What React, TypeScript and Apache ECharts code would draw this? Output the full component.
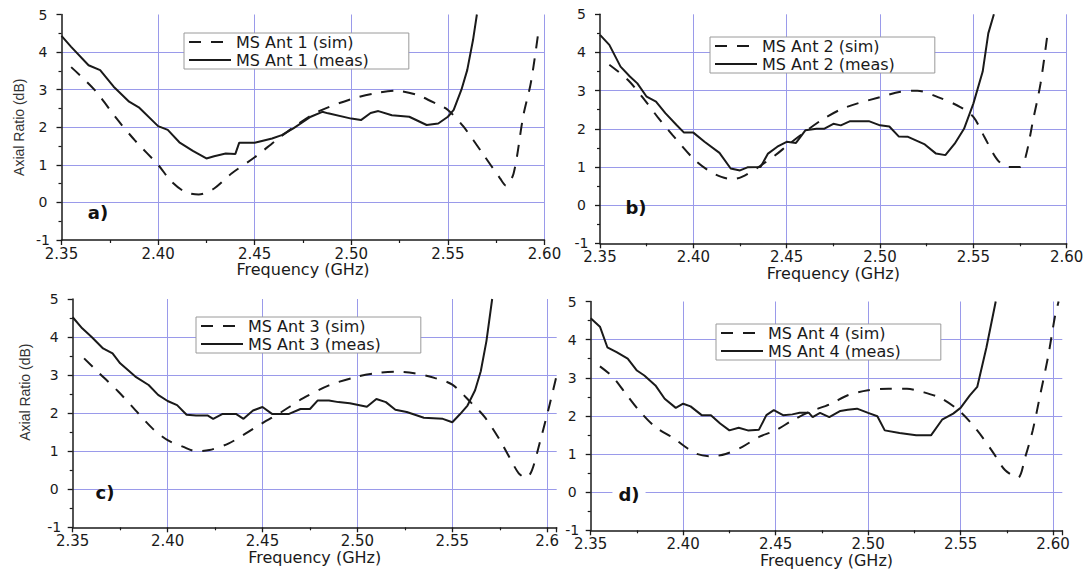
import React, { useEffect, useRef } from "react";
import * as echarts from "echarts";

// ---------- data (frequency GHz, axial ratio dB) ----------
const simA: number[][] = [
  [2.355, 3.6], [2.367, 3.0], [2.379, 2.2], [2.388, 1.65], [2.4, 1.0], [2.407, 0.55], [2.414, 0.28],
  [2.421, 0.21], [2.429, 0.37], [2.438, 0.77], [2.45, 1.2], [2.461, 1.65], [2.472, 2.07], [2.483, 2.42],
  [2.5, 2.75], [2.512, 2.9], [2.523, 2.97], [2.534, 2.86], [2.545, 2.6], [2.55, 2.46], [2.558, 2.02],
  [2.568, 1.3], [2.577, 0.64], [2.58, 0.45], [2.584, 0.77], [2.589, 2.3], [2.593, 3.2], [2.597, 4.6],
];
const measA: number[][] = [
  [2.35, 4.43], [2.355, 4.14], [2.364, 3.65], [2.37, 3.52], [2.377, 3.08], [2.385, 2.68], [2.39, 2.53],
  [2.4, 2.03], [2.405, 1.93], [2.411, 1.6], [2.418, 1.37], [2.425, 1.17], [2.429, 1.23], [2.435, 1.3],
  [2.44, 1.29], [2.442, 1.59], [2.45, 1.59], [2.459, 1.7], [2.464, 1.79], [2.47, 1.97], [2.479, 2.28],
  [2.485, 2.41], [2.488, 2.37], [2.5, 2.23], [2.505, 2.19], [2.51, 2.38], [2.514, 2.43], [2.521, 2.32],
  [2.53, 2.28], [2.539, 2.06], [2.545, 2.1], [2.55, 2.28], [2.553, 2.46], [2.557, 3.0], [2.56, 3.52],
  [2.563, 4.32], [2.565, 5.0],
];
const simB: number[][] = [
  [2.355, 3.68], [2.365, 3.28], [2.374, 2.75], [2.381, 2.3], [2.389, 1.83], [2.4, 1.22], [2.408, 0.91],
  [2.415, 0.74], [2.421, 0.68], [2.426, 0.74], [2.435, 1.0], [2.445, 1.35], [2.45, 1.55], [2.462, 2.0],
  [2.471, 2.3], [2.482, 2.57], [2.5, 2.83], [2.511, 2.97], [2.52, 3.0], [2.531, 2.83], [2.543, 2.57],
  [2.55, 2.31], [2.556, 1.78], [2.563, 1.18], [2.569, 1.0], [2.575, 1.0], [2.578, 1.27], [2.582, 2.23],
  [2.586, 3.19], [2.59, 4.59],
];
const measB: number[][] = [
  [2.35, 4.46], [2.355, 4.2], [2.361, 3.63], [2.366, 3.37], [2.37, 3.19], [2.375, 2.84], [2.38, 2.71],
  [2.385, 2.41], [2.391, 2.1], [2.395, 1.9], [2.4, 1.9], [2.406, 1.66], [2.414, 1.37], [2.42, 0.96],
  [2.425, 0.91], [2.429, 0.99], [2.436, 1.0], [2.44, 1.35], [2.445, 1.53], [2.45, 1.66], [2.455, 1.63],
  [2.46, 1.96], [2.466, 2.0], [2.47, 2.0], [2.475, 2.13], [2.479, 2.09], [2.484, 2.2], [2.494, 2.2],
  [2.5, 2.09], [2.505, 2.06], [2.51, 1.8], [2.515, 1.79], [2.524, 1.59], [2.53, 1.35], [2.535, 1.31],
  [2.54, 1.61], [2.545, 2.0], [2.55, 2.66], [2.555, 3.5], [2.558, 4.5], [2.561, 5.0],
];
const simC: number[][] = [
  [2.356, 3.44], [2.364, 3.05], [2.374, 2.57], [2.383, 2.08], [2.392, 1.6], [2.4, 1.29], [2.408, 1.12],
  [2.415, 1.0], [2.422, 1.03], [2.432, 1.2], [2.441, 1.46], [2.45, 1.74], [2.46, 2.03], [2.471, 2.38],
  [2.485, 2.73], [2.5, 2.96], [2.511, 3.06], [2.52, 3.09], [2.53, 3.05], [2.541, 2.92], [2.55, 2.75],
  [2.56, 2.27], [2.567, 1.9], [2.575, 1.3], [2.58, 0.85], [2.585, 0.42], [2.589, 0.3], [2.592, 0.5],
  [2.596, 1.21], [2.601, 2.17], [2.605, 3.0],
];
const measC: number[][] = [
  [2.35, 4.52], [2.355, 4.23], [2.36, 4.0], [2.366, 3.7], [2.371, 3.57], [2.375, 3.31], [2.383, 2.96],
  [2.39, 2.74], [2.395, 2.48], [2.4, 2.32], [2.405, 2.21], [2.41, 1.96], [2.415, 1.94], [2.421, 1.94],
  [2.424, 1.85], [2.429, 1.98], [2.436, 1.98], [2.44, 1.85], [2.445, 2.07], [2.45, 2.16], [2.455, 1.98],
  [2.464, 1.98], [2.47, 2.11], [2.475, 2.11], [2.479, 2.33], [2.485, 2.33], [2.49, 2.29], [2.496, 2.26],
  [2.505, 2.17], [2.51, 2.37], [2.515, 2.29], [2.52, 2.09], [2.526, 2.03], [2.535, 1.88], [2.545, 1.85],
  [2.55, 1.76], [2.554, 1.97], [2.558, 2.2], [2.562, 2.6], [2.565, 3.1], [2.568, 3.9], [2.571, 5.0],
];
const simD: number[][] = [
  [2.355, 3.3], [2.362, 3.02], [2.369, 2.58], [2.376, 2.15], [2.385, 1.71], [2.395, 1.41], [2.4, 1.23],
  [2.407, 1.01], [2.415, 0.94], [2.423, 1.0], [2.432, 1.19], [2.441, 1.45], [2.45, 1.62], [2.459, 1.88],
  [2.468, 2.1], [2.48, 2.32], [2.489, 2.54], [2.5, 2.67], [2.511, 2.71], [2.521, 2.71], [2.53, 2.62],
  [2.54, 2.45], [2.55, 2.1], [2.559, 1.62], [2.568, 1.01], [2.574, 0.58], [2.581, 0.38], [2.585, 0.93],
  [2.589, 1.62], [2.593, 2.54], [2.5975, 3.6], [2.601, 4.6], [2.603, 5.0],
];
const measD: number[][] = [
  [2.35, 4.56], [2.355, 4.34], [2.359, 3.8], [2.364, 3.67], [2.37, 3.5], [2.375, 3.19], [2.379, 3.06],
  [2.385, 2.8], [2.39, 2.45], [2.396, 2.21], [2.4, 2.32], [2.404, 2.25], [2.41, 2.02], [2.415, 2.02],
  [2.42, 1.8], [2.425, 1.62], [2.43, 1.69], [2.435, 1.62], [2.441, 1.64], [2.445, 2.02], [2.449, 2.15],
  [2.454, 2.02], [2.459, 2.04], [2.463, 2.08], [2.468, 2.08], [2.47, 1.97], [2.474, 2.08], [2.479, 1.97],
  [2.485, 2.13], [2.489, 2.16], [2.494, 2.19], [2.5, 2.08], [2.505, 1.99], [2.509, 1.62], [2.517, 1.55],
  [2.526, 1.49], [2.534, 1.49], [2.54, 1.9], [2.546, 2.06], [2.55, 2.21], [2.555, 2.54], [2.559, 2.76],
  [2.564, 3.8], [2.569, 5.0],
];

const panelNames = ["a)", "b)", "c)", "d)"];
const simNames = ["MS Ant 1 (sim)", "MS Ant 2 (sim)", "MS Ant 3 (sim)", "MS Ant 4 (sim)"];
const measNames = ["MS Ant 1 (meas)", "MS Ant 2 (meas)", "MS Ant 3 (meas)", "MS Ant 4 (meas)"];
const simData = [simA, simB, simC, simD];
const measData = [measA, measB, measC, measD];
const xMaxes = [2.6, 2.6, 2.605, 2.605];
const yTickValues = [-1, 0, 1, 2, 3, 4, 5];
const xAxisTitle = "Frequency (GHz)";
const yAxisTitle = "Axial Ratio (dB)";

// ---------- layout / style ----------
const GRIDS = [
  { left: 61.5, top: 14.5, width: 483, height: 225.5 },
  { left: 600, top: 14.3, width: 466.7, height: 229 },
  { left: 72.7, top: 299, width: 484, height: 228.3 },
  { left: 590.7, top: 301.5, width: 471.6, height: 228.8 },
];
const LEGENDS = [
  { left: 184, top: 33 },
  { left: 710, top: 37 },
  { left: 196, top: 317 },
  { left: 716, top: 324 },
];
const LABEL_POS = [
  [98, 212],
  [636, 207],
  [105, 492],
  [629, 494],
];
const BLUE = "#9a9aea";
const INK = "#1a1a1a";
const FONT = "DejaVu Sans";

export default function App() {
  const ref = useRef<HTMLDivElement>(null);

  useEffect(() => {
    if (!ref.current) return;
    const chart = echarts.init(ref.current, null, { renderer: "svg" });

    const axisLineStyle = { color: INK, width: 1.5 };

    const xAxis = GRIDS.map((_, i) => ({
      type: "value",
      gridIndex: i,
      min: 2.35,
      max: xMaxes[i],
      interval: 0.05,
      axisLine: { show: true, onZero: false, lineStyle: axisLineStyle },
      axisTick: { show: true, length: 5, lineStyle: { color: INK, width: 1.3 } },
      minorTick: { show: true, splitNumber: 2, length: 3, lineStyle: { color: INK, width: 1.2 } },
      splitLine: {
        show: true,
        showMinLine: false,
        showMaxLine: i < 2,
        lineStyle: { color: BLUE, width: 1 },
      },
      axisLabel: {
        margin: 7,
        fontSize: 15,
        lineHeight: 13,
        fontFamily: FONT,
        color: INK,
        formatter: (v: number) => {
          if (v > 2.6025) return "";
          if (i === 2 && Math.abs(v - 2.6) < 1e-6) return "2.6";
          return v.toFixed(2);
        },
      },
      name: xAxisTitle,
      nameLocation: "middle",
      nameGap: 20,
      nameTextStyle: { fontSize: 16, lineHeight: 16, fontFamily: FONT, color: INK },
    }));

    const yAxis = GRIDS.map((_, i) => ({
      type: "value",
      gridIndex: i,
      min: yTickValues[0],
      max: yTickValues[yTickValues.length - 1],
      interval: 1,
      axisLine: { show: true, onZero: false, lineStyle: axisLineStyle },
      axisTick: { show: true, length: 5, lineStyle: { color: INK, width: 1.3 } },
      minorTick: { show: true, splitNumber: 2, length: 3, lineStyle: { color: INK, width: 1.2 } },
      splitLine: {
        show: true,
        showMinLine: false,
        showMaxLine: false,
        lineStyle: { color: BLUE, width: 1 },
      },
      axisLabel: {
        margin: 18.5,
        align: "center",
        fontSize: 14,
        lineHeight: 12,
        fontFamily: FONT,
        color: INK,
        formatter: (v: number) => String(v),
      },
      name: i === 0 || i === 2 ? yAxisTitle : "",
      nameLocation: "middle",
      nameRotate: 90,
      nameGap: i === 0 ? 36 : 41,
      nameTextStyle: {
        fontSize: 14,
        fontFamily: "Liberation Sans",
        color: "#333",
        padding: i === 2 ? [0, 0, 0, 42] : 0,
      },
    }));

    const series: any[] = [];
    GRIDS.forEach((_, i) => {
      series.push({
        type: "line",
        name: simNames[i],
        xAxisIndex: i,
        yAxisIndex: i,
        data: simData[i],
        symbol: "none",
        showSymbol: false,
        smooth: 0.3,
        clip: true,
        itemStyle: { color: INK },
        lineStyle: { color: INK, width: 2, type: [12, 10] },
        z: 3,
      });
      series.push({
        type: "line",
        name: measNames[i],
        xAxisIndex: i,
        yAxisIndex: i,
        data: measData[i],
        symbol: "none",
        showSymbol: false,
        smooth: false,
        clip: true,
        itemStyle: { color: INK },
        lineStyle: { color: INK, width: 2, type: "solid" },
        z: 4,
      });
    });

    const legend = LEGENDS.map((p, i) => ({
      left: p.left,
      top: p.top,
      orient: "vertical",
      data: [simNames[i], measNames[i]],
      selectedMode: false,
      itemWidth: 42,
      itemHeight: 14,
      itemGap: 2,
      padding: [1, 40, 1, 4],
      borderColor: "#9a9a9a",
      borderWidth: 1,
      backgroundColor: "#ffffff",
      itemStyle: { opacity: 0, borderWidth: 0 },
      lineStyle: { width: 2, color: INK },
      textStyle: { fontSize: 16, lineHeight: 16, fontFamily: FONT, color: INK },
      z: 10,
    }));

    const graphic = LABEL_POS.map((p, i) => ({
      type: "text",
      x: p[0],
      y: p[1],
      z: 20,
      style: {
        text: panelNames[i],
        fontSize: 18,
        fontWeight: "bold",
        fontFamily: FONT,
        fill: "#111",
        align: "center",
        verticalAlign: "middle",
        textAlign: "center",
        textVerticalAlign: "middle",
        backgroundColor: i === 3 ? "#ffffff" : undefined,
        padding: i === 3 ? [1, 6, 1, 6] : 0,
      },
    }));

    chart.setOption({
      animation: false,
      backgroundColor: "#ffffff",
      grid: GRIDS.map((g) => ({ ...g, containLabel: false, outerBoundsMode: "none" })),
      xAxis,
      yAxis,
      legend,
      series,
      graphic,
    } as any);

    return () => chart.dispose();
  }, []);

  return (
    <div
      ref={ref}
      style={{ position: "fixed", left: 0, top: 0, width: 1088, height: 570, background: "#fff" }}
    />
  );
}
